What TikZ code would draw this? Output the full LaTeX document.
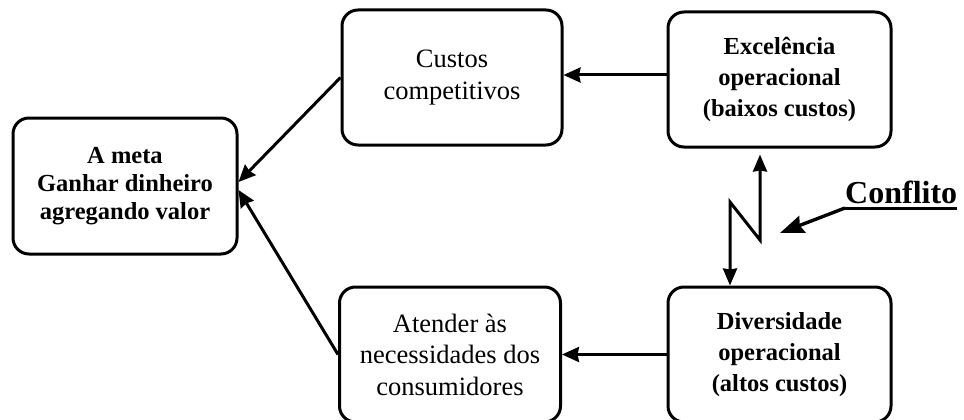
\documentclass[tikz,border=0pt]{standalone}
\usepackage{fontspec}
\setmainfont{Liberation Serif}
\usetikzlibrary{arrows.meta}
\begin{document}
\begin{tikzpicture}[x=1pt,y=-1pt,
  box/.style={draw, line width=3pt, rounded corners=16pt, inner sep=0pt, align=center,
    minimum width=222pt, minimum height=135pt},
  plaintext/.style={font=\fontsize{26.5}{31.5}\selectfont},
  strongtext/.style={font=\fontsize{24.5}{31}\selectfont\bfseries},
  arr/.style={line width=3pt, -{Stealth[length=17pt,width=15pt,inset=1.5pt]}},
  dblarr/.style={line width=3pt, {Stealth[length=17pt,width=14pt,inset=1pt]}-{Stealth[length=17pt,width=14pt,inset=1pt]}},
  callout/.style={line width=3.4pt, -{Stealth[length=24pt,width=18pt,inset=3pt]}}]
\useasboundingbox (0,0) rectangle (964,420);

% boxes
\node[box, font=\fontsize{24.5}{28}\selectfont\bfseries, minimum width=224pt, minimum height=136pt]
  (meta) at (125,186) {A meta\\Ganhar dinheiro\\agregando valor};
\node[box, plaintext, minimum width=220pt] (custos) at (452,77.5) {Custos\\competitivos};
\node[box, strongtext, minimum width=223pt] (excel) at (779.5,79.5) {Excelência\\operacional\\(baixos custos)};
\node[box, plaintext, minimum width=221pt] (atender) at (450,354.5) {Atender às\\necessidades dos\\consumidores};
\node[box, strongtext, minimum width=223pt] (div) at (779.5,354.5) {Diversidade\\operacional\\(altos custos)};

% flow arrows
\draw[arr] ([yshift=4.5pt]excel.west) -- ([yshift=4.5pt]excel.west -| custos.east);
\draw[arr] (div.west) -- (div.west -| atender.east);
\draw[arr] (custos.west) -- ([yshift=4pt]meta.east);
\draw[arr] (atender.west) -- ([yshift=-4pt]meta.east);

% conflict zigzag
\coordinate (z1) at (730,202);
\coordinate (z2) at (760,240);
\draw[dblarr, line join=miter] (div.north -| z1) -- (z1) -- (z2) -- ([yshift=-6pt]excel.south -| z2);

% conflict label
\node[font=\fontsize{32}{36}\selectfont\bfseries, anchor=base west, inner sep=0pt] (conf) at (845,203) {Conflito};
\coordinate (ctip) at (780,233);
\draw[line width=3pt] ([yshift=-5pt]conf.base west) -- ([yshift=-5pt]conf.base east);
\draw[callout] ([yshift=-5pt]conf.base west) -- (ctip);
\end{tikzpicture}
\end{document}
